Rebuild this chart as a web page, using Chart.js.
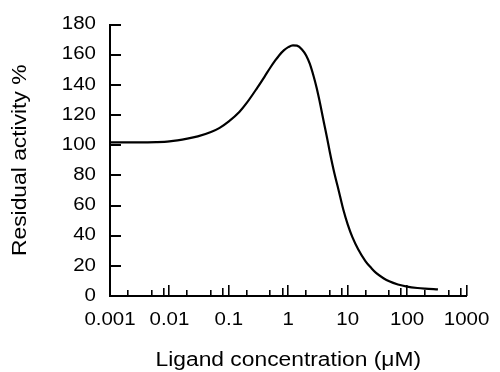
<!DOCTYPE html>
<html>
<head>
<meta charset="utf-8">
<script src="https://cdn.jsdelivr.net/npm/chart.js@4/dist/chart.umd.min.js"></script>
<style>
  html, body { margin: 0; padding: 0; background: #fff; }
  #wrap { width: 500px; height: 372px; position: relative; }
</style>
</head>
<body>
<div id="wrap"><canvas id="c"></canvas></div>
<script>
// Data
const concentration = [0.001, 0.003, 0.006, 0.01, 0.02, 0.03, 0.05, 0.07, 0.1, 0.15, 0.2, 0.3, 0.4, 0.5, 0.6, 0.7, 0.85, 1.0, 1.2, 1.4, 1.7, 2.0, 2.3, 2.7, 3.0, 3.5, 4.0, 4.5, 5.0, 6.0, 7.0, 8.5, 10, 12, 15, 20, 25, 30, 40, 50, 70, 100, 150, 200, 330];
const activity = [101.8, 101.8, 102, 102.5, 104.3, 105.8, 108.7, 111.5, 115.8, 122, 128, 138, 145.5, 151.5, 156, 159.5, 163, 165, 166.2, 166, 163.5, 159.5, 154, 145, 138, 126, 114.5, 104.8, 95.5, 81, 70.5, 56.8, 47.5, 39, 31, 23, 18.5, 15.3, 11.8, 9.7, 7.6, 6.2, 5.3, 4.9, 4.4];

const xTickValues = [0.001, 0.01, 0.1, 1, 10, 100, 1000];
const xTickLabels = ['0.001', '0.01', '0.1', '1', '10', '100', '1000'];
const xMinorFactors = [2, 5, 8];
const yTickValues = [0, 20, 40, 60, 80, 100, 120, 140, 160, 180];

const FONT = '"Liberation Sans", Arial, sans-serif';
const TEXT_STRETCH = 1.17;

// The reference lettering is horizontally wide; stretch glyphs around their anchor.
(function () {
  const orig = CanvasRenderingContext2D.prototype.fillText;
  CanvasRenderingContext2D.prototype.fillText = function (text, x, y, maxWidth) {
    this.save();
    this.translate(x, y);
    this.scale(TEXT_STRETCH, 1);
    if (maxWidth !== undefined) orig.call(this, text, 0, 0, maxWidth / TEXT_STRETCH);
    else orig.call(this, text, 0, 0);
    this.restore();
  };
})();

const insideTicks = {
  id: 'insideTicks',
  afterDraw(chart) {
    const { ctx, chartArea, scales } = chart;
    const x = scales.x, y = scales.y;
    ctx.save();
    ctx.strokeStyle = '#000';
    ctx.lineCap = 'butt';
    ctx.lineWidth = 2;
    yTickValues.forEach(v => {
      if (v === 0) return;
      const py = Math.round(y.getPixelForValue(v));
      ctx.beginPath();
      ctx.moveTo(chartArea.left, py);
      ctx.lineTo(chartArea.left + 11, py);
      ctx.stroke();
    });
    ctx.lineWidth = 1.6;
    const base = chartArea.bottom;
    xTickValues.forEach((v, i) => {
      const px = Math.round(x.getPixelForValue(v)) - 0.2;
      ctx.beginPath();
      ctx.moveTo(px, base);
      ctx.lineTo(px, base - 11);
      ctx.stroke();
      if (i < xTickValues.length - 1) {
        xMinorFactors.forEach(f => {
          const mx = Math.round(x.getPixelForValue(v * f)) - 0.2;
          const len = f === 8 ? 8 : 6;
          ctx.beginPath();
          ctx.moveTo(mx, base);
          ctx.lineTo(mx, base - len);
          ctx.stroke();
        });
      }
    });
    ctx.restore();
  }
};

new Chart(document.getElementById('c'), {
  type: 'line',
  data: {
    datasets: [{
      data: concentration.map((c, i) => ({ x: c, y: activity[i] })),
      borderColor: '#000',
      borderWidth: 2.2,
      pointRadius: 0,
      fill: false,
      cubicInterpolationMode: 'monotone'
    }]
  },
  options: {
    responsive: true,
    maintainAspectRatio: false,
    animation: false,
    events: [],
    layout: { padding: { top: 24, right: 31, left: 0, bottom: 0 } },
    plugins: { legend: { display: false }, tooltip: { enabled: false } },
    scales: {
      x: {
        type: 'logarithmic',
        min: 0.001,
        max: 1000,
        afterBuildTicks(scale) {
          scale.ticks = xTickValues.map(v => ({ value: v }));
        },
        afterFit(scale) { scale.height = 76; },
        grid: { display: true, drawOnChartArea: false, drawTicks: false },
        border: { display: true, color: '#000', width: 2 },
        ticks: {
          autoSkip: false,
          maxRotation: 0,
          padding: 14,
          color: '#000',
          font: { family: FONT, size: 17.5 },
          callback: (val, idx) => xTickLabels[idx]
        },
        title: {
          display: true,
          text: 'Ligand concentration (μM)',
          color: '#000',
          font: { family: FONT, size: 19.5 },
          padding: { top: 0, bottom: 0 }
        }
      },
      y: {
        min: 0,
        max: 180,
        afterBuildTicks(scale) {
          scale.ticks = yTickValues.map(v => ({ value: v }));
        },
        afterFit(scale) { scale.width = 110; },
        grid: { display: true, drawOnChartArea: false, drawTicks: false },
        border: { display: true, color: '#000', width: 2 },
        ticks: {
          padding: 14,
          color: '#000',
          font: { family: FONT, size: 17.5 }
        },
        title: {
          display: true,
          text: 'Residual activity %',
          color: '#000',
          font: { family: FONT, size: 19.5 },
          padding: { top: 9, bottom: 0 }
        }
      }
    }
  },
  plugins: [insideTicks]
});
</script>
</body>
</html>
